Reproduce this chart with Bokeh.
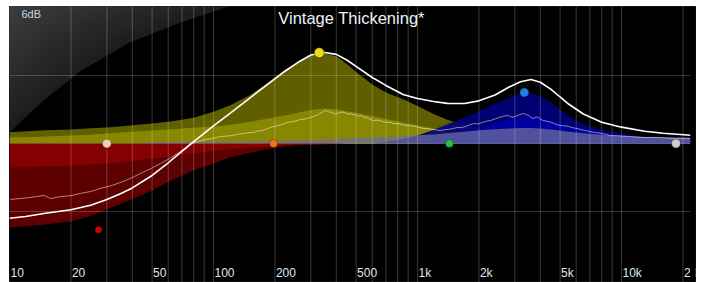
import numpy as np
from bokeh.plotting import figure
from bokeh.models import Range1d, Label
from bokeh.embed import file_html
from bokeh.resources import INLINE
from bokeh.core.properties import value

# ---------------- data ----------------
freq = [10, 12, 15, 20, 25, 30, 35, 40, 50, 60,
        70, 80, 100, 120, 150, 180, 220, 260, 300, 350,
        400, 450, 500, 600, 700, 850, 1000, 1200, 1400, 1700,
        2000, 2400, 2800, 3200, 3600, 4000, 4500, 5000, 5500, 6500,
        8000, 10000, 13000, 16000, 21800]

total_db = [-3.30, -3.22, -3.08, -2.92, -2.72, -2.47, -2.22, -1.96, -1.41, -0.85,
            -0.35, 0.08, 0.78, 1.32, 1.99, 2.54, 3.14, 3.58, 3.90, 4.01,
            3.93, 3.68, 3.40, 2.91, 2.56, 2.16, 1.98, 1.85, 1.77, 1.76,
            1.88, 2.14, 2.48, 2.72, 2.82, 2.70, 2.40, 2.05, 1.74, 1.30,
            0.94, 0.72, 0.54, 0.45, 0.36]

yellow_outer_db = [0.49, 0.54, 0.58, 0.62, 0.67, 0.71, 0.75, 0.80, 0.88, 0.96,
                   1.05, 1.14, 1.40, 1.68, 2.12, 2.60, 3.20, 3.62, 3.90, 3.97,
                   3.85, 3.50, 3.15, 2.60, 2.25, 1.95, 1.65, 1.30, 1.05, 0.82,
                   0.66, 0.48, 0.36, 0.28, 0.23, 0.18, 0.14, 0.11, 0.09, 0.06,
                   0.04, 0.03, 0.03, 0.03, 0.03]

yellow_inner_db = [0.26, 0.28, 0.31, 0.35, 0.39, 0.44, 0.48, 0.52, 0.57, 0.62,
                   0.66, 0.69, 0.75, 0.82, 0.95, 1.08, 1.22, 1.35, 1.48, 1.54,
                   1.50, 1.42, 1.35, 1.20, 1.08, 0.93, 0.80, 0.66, 0.56, 0.46,
                   0.38, 0.30, 0.24, 0.20, 0.17, 0.15, 0.13, 0.11, 0.10, 0.08,
                   0.06, 0.05, 0.04, 0.04, 0.04]

blue_outer_db = [0, 0, 0, 0, 0, 0, 0, 0, 0, 0,
                 0, 0, 0, 0, 0, 0, 0, 0, 0, 0,
                 0, 0, 0, 0, 0.08, 0.20, 0.35, 0.60, 0.85, 1.15,
                 1.42, 1.75, 2.02, 2.20, 2.22, 2.08, 1.82, 1.50, 1.20, 0.85,
                 0.60, 0.43, 0.30, 0.24, 0.20]

blue_inner_db = [0, 0, 0, 0, 0, 0, 0, 0, 0, 0,
                 0, 0, 0, 0, 0, 0, 0, 0, 0, 0,
                 0, 0, 0, 0, 0, 0, 0, 0.15, 0.30, 0.50,
                 0.68, 0.88, 1.05, 1.18, 1.20, 1.12, 1.00, 0.88, 0.76, 0.60,
                 0.45, 0.35, 0.27, 0.23, 0.20]

lavender_db = [0, 0, 0, 0, 0, 0, 0, 0, 0.07, 0.08,
               0.08, 0.08, 0.08, 0.09, 0.10, 0.11, 0.12, 0.14, 0.16, 0.18,
               0.20, 0.22, 0.24, 0.27, 0.30, 0.33, 0.36, 0.40, 0.45, 0.52,
               0.58, 0.63, 0.66, 0.68, 0.68, 0.66, 0.62, 0.57, 0.52, 0.45,
               0.38, 0.33, 0.29, 0.27, 0.25]

red_outer_db = [-3.70, -3.65, -3.57, -3.44, -3.20, -2.90, -2.68, -2.45, -2.07, -1.70,
                -1.42, -1.18, -0.88, -0.62, -0.42, -0.26, -0.13, -0.08, -0.05, -0.03,
                -0.02, 0, 0, 0, 0, 0, 0, 0, 0, 0,
                0, 0, 0, 0, 0, 0, 0, 0, 0, 0,
                0, 0, 0, 0, 0]

red_inner_db = [-1.06, -1.04, -1.01, -0.97, -0.93, -0.88, -0.84, -0.78, -0.66, -0.58,
                -0.50, -0.43, -0.33, -0.25, -0.18, -0.12, -0.08, -0.05, -0.04, -0.03,
                -0.02, 0, 0, 0, 0, 0, 0, 0, 0, 0,
                0, 0, 0, 0, 0, 0, 0, 0, 0, 0,
                0, 0, 0, 0, 0]

spec_freq = [10.1, 12.7, 14.7, 15.9, 17.8, 20.0, 22.3, 25.0, 27.9, 31.0, 35.0, 39.0, 43.9, 49.0, 55.0,
             60.5, 66.6, 72.0, 77.0, 84.0, 91.0, 99.0, 108, 119, 131, 144, 157, 165, 174, 182, 190,
             210, 230, 248, 267, 283, 299, 313, 327, 340, 354, 366, 379, 392, 405, 422, 439, 454,
             469, 483, 497, 512, 526, 545, 563, 586, 609, 640, 674, 705, 737, 772, 807, 850, 893,
             935, 977, 1022, 1070, 1120, 1171, 1234, 1297, 1357, 1419, 1495, 1571, 1645, 1719,
             1800, 1882, 1980, 2083, 2180, 2280, 2400, 2525, 2640, 2763, 2890, 3022, 3160, 3311,
             3400, 3501, 3600, 3704, 3810, 3918, 4030, 4146, 4340, 4539, 4780, 5024, 5250, 5497,
             5790, 6083, 6370, 6659, 6970, 7290, 7680, 8072, 8450, 8832, 9700, 10700, 11700,
             12820, 14100, 15530, 17000, 18410, 20000, 21670]
spec_db = [-2.47, -2.38, -2.29, -2.43, -2.34, -2.30, -2.20, -2.12, -1.98, -1.88, -1.72, -1.55, -1.32,
           -1.12, -0.88, -0.68, -0.44, -0.22, 0.00, 0.08, 0.18, 0.22, 0.31, 0.33, 0.40, 0.46, 0.49,
           0.55, 0.57, 0.64, 0.71, 0.80, 0.93, 0.97, 1.06, 1.08, 1.15, 1.20, 1.28, 1.36, 1.46, 1.40,
           1.37, 1.30, 1.32, 1.39, 1.37, 1.30, 1.32, 1.26, 1.28, 1.20, 1.24, 1.16, 1.15, 1.06, 1.01,
           1.03, 0.97, 0.93, 0.93, 0.86, 0.88, 0.82, 0.79, 0.78, 0.75, 0.70, 0.66, 0.66, 0.62, 0.60,
           0.57, 0.61, 0.62, 0.66, 0.71, 0.70, 0.75, 0.82, 0.88, 0.86, 0.93, 0.98, 1.01, 1.08, 1.15,
           1.20, 1.24, 1.16, 1.19, 1.27, 1.32, 1.28, 1.24, 1.16, 1.10, 1.17, 1.15, 1.06, 1.01, 0.97,
           0.93, 0.84, 0.79, 0.78, 0.75, 0.69, 0.66, 0.61, 0.57, 0.53, 0.49, 0.47, 0.44, 0.40, 0.35,
           0.34, 0.31, 0.29, 0.26, 0.27, 0.26, 0.23, 0.22, 0.23, 0.22]

node_freq = [30, 27.3, 197, 330, 1434, 3340, 18500]
node_db = [0.0, -3.8, 0.0, 4.0, 0.0, 2.25, 0.0]
node_color = ["#efcdb0", "#d00000", "#e87818", "#e6de12", "#22c444", "#1c82e2", "#cfcfcf"]
node_size = [9, 7, 8, 10, 8, 9, 9]

grid_freq = [20, 30, 40, 50, 60, 70, 80, 90,
             100, 200, 300, 400, 500, 600, 700, 800, 900,
             1000, 2000, 3000, 4000, 5000, 6000, 7000, 8000, 9000,
             10000, 20000]
grid_db = [-3, 0, 3]

tick_freq = [10, 20, 50, 100, 200, 500, 1000, 2000, 5000, 10000, 20000]
tick_text = ["10", "20", "50", "100", "200", "500", "1k", "2k", "5k", "10k", "20k"]

# decorative top-left sheen outline (Hz, dB)
sheen_f = [10, 14.7, 22.3, 39, 69, 135]
sheen_db = [0.5, 1.9, 3.2, 4.46, 5.34, 6.2]

# ---------------- figure ----------------
X0, X1 = 10, 23055          # panel: 10 Hz at left edge, black panel runs a little past the graph
XG = 21785                  # right end of the graph area
Y0, Y1 = -6.13, 6.04
p = figure(width=701, height=282, x_axis_type="log",
           x_range=Range1d(X0, X1), y_range=Range1d(Y0, Y1),
           x_axis_location=None, y_axis_location=None,
           output_backend="svg", toolbar_location=None,
           min_border_left=9, min_border_right=6, min_border_top=6, min_border_bottom=0,
           background_fill_color="#000000", border_fill_color="#ffffff",
           outline_line_color="#101010", outline_line_width=1)
p.grid.visible = False

# sheen: nested shapes toward the top-left corner
lc, yc = np.log10(X0), Y1 + 0.3
lf = np.log10(np.array(sheen_f))
sd = np.array(sheen_db)
n_layers = 18
for i in range(n_layers):
    s = 1.0 - 0.9 * i / (n_layers - 1)
    g = int(round(0x1d + (0x3d - 0x1d) * i / (n_layers - 1)))
    c = "#%02x%02x%02x" % (g, g, g)
    xs = 10 ** (lc + s * (lf - lc))
    ys = yc + s * (sd - yc)
    px = [X0] + list(xs) + [xs[-1]]
    py = [yc] + list(ys) + [yc]
    px[1] = X0
    p.patch(px, py, fill_color=c, line_color=None)

# band fills
p.varea(x=freq, y1=0, y2=yellow_outer_db, fill_color="#5f5f00")
p.varea(x=freq, y1=0, y2=yellow_inner_db, fill_color="#888800")
p.varea(x=freq, y1=0, y2=blue_outer_db, fill_color="#00007e", fill_alpha=0.9)
p.varea(x=freq, y1=0, y2=blue_inner_db, fill_color="#0000a4", fill_alpha=0.9)
p.varea(x=freq, y1=0, y2=lavender_db, fill_color="#6c6c9c", fill_alpha=0.75)
p.varea(x=freq, y1=0, y2=red_outer_db, fill_color="#5c0000")
p.varea(x=freq, y1=0, y2=red_inner_db, fill_color="#850000")

# grid
p.segment(x0=grid_freq, y0=Y0 - 1, x1=grid_freq, y1=Y1 + 1,
          line_color="#ffffff", line_alpha=0.2, line_width=1.1)
p.segment(x0=X0, y0=grid_db, x1=XG, y1=grid_db,
          line_color="#ffffff", line_alpha=0.2, line_width=1.1)

# analyzer trace and total response
p.line(spec_freq, spec_db, line_color="#ffffff", line_alpha=0.5, line_width=1)
p.line(freq, total_db, line_color="#ffffff", line_width=1.6)

# nodes
p.scatter(node_freq, node_db, size=node_size, fill_color=node_color,
          line_color="#000000", line_alpha=0.35, line_width=1)

# frequency labels
p.text(x=tick_freq, y=-5.69, text=tick_text, text_font=value("Liberation Sans"),
       text_font_size="12px", text_color="#dce8f4", text_align="left",
       text_baseline="alphabetic", x_offset=1)

# the graph area ends at XG: mask whatever label text runs past it
p.quad(left=XG, right=X1, bottom=Y0 - 1, top=Y1 + 1, fill_color="#000000", line_color=None)

p.add_layout(Label(x=475, y=5.54, text="Vintage Thickening*", text_align="center",
                   text_baseline="alphabetic", text_font="Liberation Sans",
                   text_font_size="16.5px", text_color="#eef2f6"))
p.add_layout(Label(x=11.45, y=5.70, text="6dB", text_align="left",
                   text_baseline="alphabetic", text_font="Liberation Sans",
                   text_font_size="11px", text_color="#bcd4ec"))

open("out.html", "w").write(file_html(p, INLINE))
